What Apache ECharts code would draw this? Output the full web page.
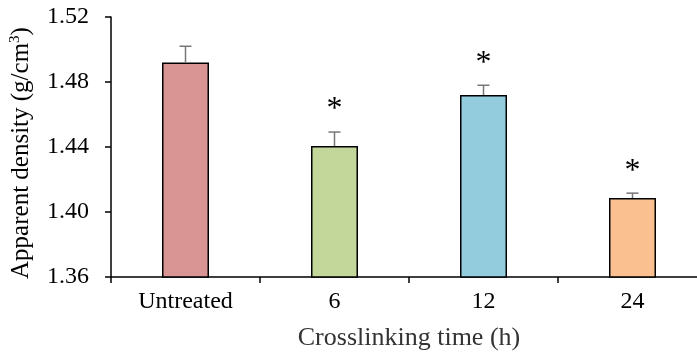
<!DOCTYPE html>
<html><head><meta charset="utf-8">
<script src="https://cdn.jsdelivr.net/npm/echarts@6/dist/echarts.min.js"></script>
<style>html,body{margin:0;padding:0;background:#fff}#c{width:697px;height:358px}</style>
</head><body><div id="c"></div>
<script>
var categories = ['Untreated', '6', '12', '24'];
var values = [1.492, 1.4406, 1.472, 1.4086];
var errors = [0.010, 0.0086, 0.006, 0.003];
var significant = [false, true, true, true];
var colors = ['#D99594', '#C4D79B', '#93CDDD', '#FAC090'];
var yTicks = [1.36, 1.40, 1.44, 1.48, 1.52];

var FONT = '"Times New Roman", "Liberation Serif", serif';
var chart = echarts.init(document.getElementById('c'));
var errData = values.map(function (v, i) { return [i, v, v + errors[i], significant[i] ? 1 : 0]; });

chart.setOption({
  animation: false,
  grid: { left: 111, right: -10, top: 17, bottom: 81, containLabel: false, outerBoundsMode: 'none' },
  xAxis: {
    type: 'category', data: categories, boundaryGap: true,
    axisLine: { lineStyle: { color: '#000', width: 1.5 } },
    axisTick: { show: true, length: 6, lineStyle: { color: '#000', width: 1.5 } },
    axisLabel: { color: '#000', fontFamily: FONT, fontSize: 24, margin: 13 },
    name: 'Crosslinking time (h)', nameLocation: 'middle', nameGap: 48,
    nameTextStyle: { color: '#333', fontFamily: FONT, fontSize: 26 }
  },
  yAxis: {
    type: 'value', min: yTicks[0], max: yTicks[yTicks.length - 1], interval: 0.04,
    axisLine: { show: true, lineStyle: { color: '#000', width: 1.5 } },
    axisTick: { show: true, length: 6, lineStyle: { color: '#000', width: 1.5 } },
    splitLine: { show: false },
    axisLabel: { color: '#000', fontFamily: FONT, fontSize: 24, margin: 22,
      formatter: function (v) { return v.toFixed(2); } },
    name: '{a|Apparent density (g/cm}{s|3}{a|)}', nameLocation: 'middle', nameGap: 77, nameRotate: 90,
    nameTextStyle: { padding: [0, 12, 0, 0], rich: {
      a: { color: '#000', fontFamily: FONT, fontSize: 25 },
      s: { color: '#000', fontFamily: FONT, fontSize: 15, padding: [0, 0, 11, 0] }
    } }
  },
  series: [{
    type: 'bar', barWidth: 47,
    data: values.map(function (v, i) {
      return { value: v, itemStyle: { color: colors[i], borderColor: '#000', borderWidth: 1.5 } };
    })
  }, {
    type: 'custom', z: 5,
    data: errData,
    renderItem: function (params, api) {
      var x = api.coord([api.value(0), api.value(1)]);
      var top = api.coord([api.value(0), api.value(2)]);
      var hw = 6;
      var children = [
        { type: 'line', shape: { x1: x[0], y1: x[1], x2: top[0], y2: top[1] }, style: { stroke: '#777', lineWidth: 1.5 } },
        { type: 'line', shape: { x1: top[0] - hw, y1: top[1], x2: top[0] + hw, y2: top[1] }, style: { stroke: '#777', lineWidth: 1.5 } }
      ];
      if (api.value(3)) {
        children.push({ type: 'text', style: { text: '*', x: top[0], y: top[1] - 6, align: 'center', verticalAlign: 'bottom',
          font: '32px "Liberation Serif"', fill: '#000' } });
      }
      return { type: 'group', children: children };
    }
  }]
});
</script></body></html>
